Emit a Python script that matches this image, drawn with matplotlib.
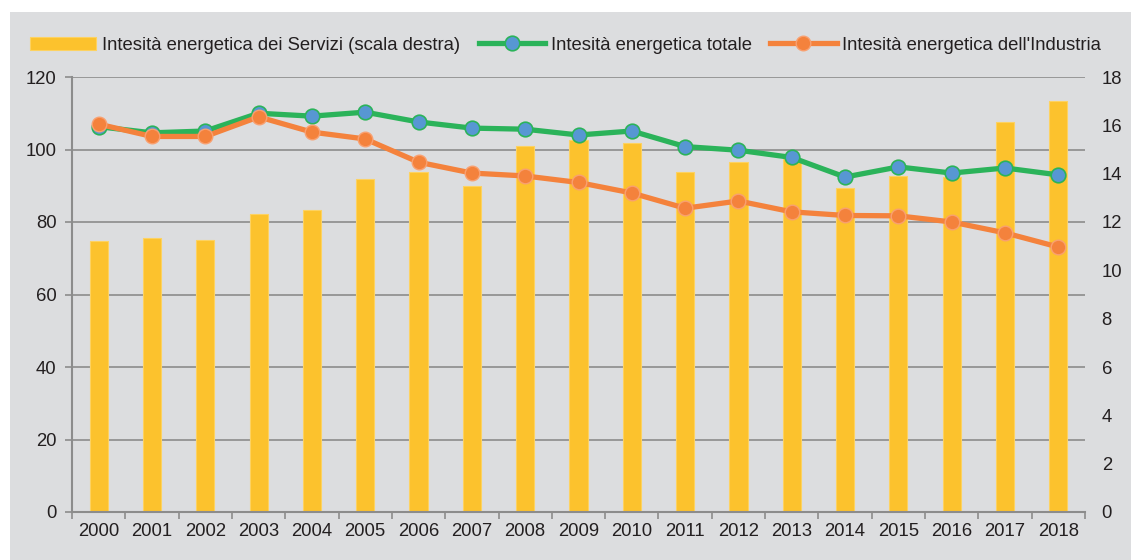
import numpy as np
import matplotlib.pyplot as plt
from matplotlib.patches import Rectangle

plt.rcParams['font.family'] = ['Liberation Sans', 'DejaVu Sans']

anni = ['2000', '2001', '2002', '2003', '2004', '2005', '2006', '2007', '2008', '2009',
        '2010', '2011', '2012', '2013', '2014', '2015', '2016', '2017', '2018']
servizi = [11.2, 11.35, 11.25, 12.35, 12.5, 13.8, 14.05, 13.5, 15.15, 15.4,
           15.25, 14.05, 14.5, 14.6, 13.4, 13.9, 13.85, 16.15, 17.0]
totale = [106.3, 104.6, 105.1, 110.0, 109.2, 110.3, 107.6, 105.9, 105.6, 104.0,
          105.1, 100.8, 99.8, 97.8, 92.4, 95.2, 93.5, 94.9, 93.0]
industria = [107.0, 103.6, 103.6, 109.0, 104.8, 102.9, 96.5, 93.5, 92.7, 90.9,
             88.0, 83.8, 85.8, 82.8, 81.8, 81.7, 80.0, 77.0, 73.1]

label_serv = 'Intesità energetica dei Servizi (scala destra)'
label_tot = 'Intesità energetica totale'
label_ind = "Intesità energetica dell'Industria"

bg = '#dcdddf'
grid_col = '#8c8c8c'
txt = '#231f20'
fs = 13.3

fig = plt.figure(figsize=(11.31, 5.6), dpi=100)
fig.patch.set_facecolor('white')
fig.patches.append(Rectangle((10 / 1131, 0), 1, 548 / 560, transform=fig.transFigure,
                             facecolor=bg, edgecolor='none', zorder=-5))

ax = fig.add_axes([72 / 1131, 48 / 560, 1013 / 1131, 435 / 560])
ax2 = ax.twinx()
ax.set_zorder(2)
ax2.set_zorder(1)
ax.patch.set_visible(False)
ax2.patch.set_visible(False)

x = np.arange(len(anni))
ax2.bar(x, servizi, width=0.34, color='#fcc22d', edgecolor='#fdd261', linewidth=0.8,
        label=label_serv, zorder=2)
ax2.set_ylim(0, 18)
ax2.set_yticks(range(0, 19, 2))

ax.plot(x, totale, color='#2bb35a', lw=3.8, marker='o', ms=10.5,
        markerfacecolor='#5797d3', markeredgecolor='#2bb35a', markeredgewidth=1.2,
        label=label_tot, zorder=3)
ax.plot(x, industria, color='#f4823c', lw=3.8, marker='o', ms=10.5,
        markerfacecolor='#f4823c', markeredgecolor='#f9a070', markeredgewidth=1.0,
        label=label_ind, zorder=4)

ax.set_ylim(0, 120)
ax.set_yticks(range(0, 121, 20))
ax.set_xlim(-0.5, len(anni) - 0.5)
ax.set_xticks(x)
ax.set_xticklabels(anni)
ax.set_xticks(np.arange(-0.5, len(anni)), minor=True)
ax.tick_params(axis='x', which='major', length=0, pad=8)
ax.tick_params(axis='x', which='minor', length=5, width=1.2, color=grid_col, direction='out')
ax.tick_params(axis='y', length=5, width=1.2, color=grid_col, pad=6)
ax.tick_params(labelsize=fs, labelcolor=txt)
ax2.tick_params(axis='y', length=0, labelsize=fs, labelcolor=txt, pad=12)

# horizontal gridlines (drawn on bar axis so they sit behind the bars)
for v in range(20, 121, 20):
    ax2.axhline(v * 0.15, color=grid_col, lw=1.2, zorder=1)

for s in ['top', 'right']:
    ax.spines[s].set_visible(False)
for s in ['top', 'right', 'left', 'bottom']:
    ax2.spines[s].set_visible(False)
ax.spines['left'].set_color(grid_col)
ax.spines['bottom'].set_color(grid_col)
ax.spines['left'].set_linewidth(1.5)
ax.spines['bottom'].set_linewidth(1.5)

h1, l1 = ax2.get_legend_handles_labels()
h2, l2 = ax.get_legend_handles_labels()
fig.legend(h1 + h2, l1 + l2, loc='center', bbox_to_anchor=(0.5, 515 / 560), ncol=3,
           frameon=False, fontsize=fs, handlelength=3.6, handletextpad=0.3,
           columnspacing=1.0, labelcolor=txt)

fig.savefig('out.png', dpi=100, facecolor=fig.get_facecolor())
